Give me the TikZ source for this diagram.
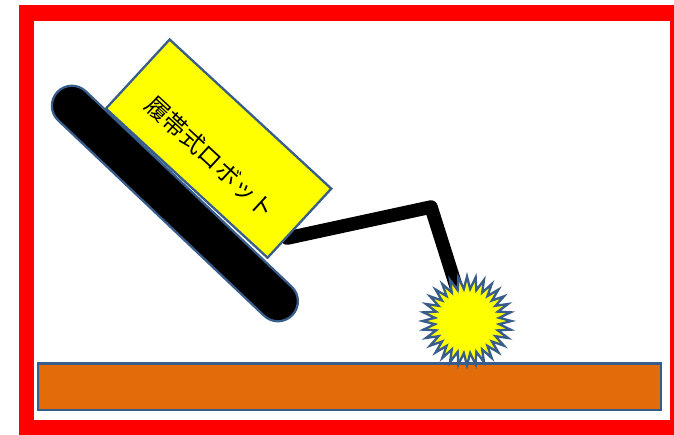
\documentclass[tikz,border=0pt]{standalone}
\usepackage{fontspec}
\newfontfamily\jpfont{Noto Sans CJK JP}
\usetikzlibrary{shapes.geometric,calc,backgrounds}
\definecolor{edge}{RGB}{56,93,138}
\definecolor{soil}{RGB}{227,108,10}
\definecolor{lemon}{RGB}{255,255,0}
\tikzset{every picture/.style = {x=0.02cm, y=-0.02cm}}
\tikzset{outlined/.style = {draw=edge, line width=1.3pt}}
\tikzset{body/.style = {outlined, fill=lemon, minimum width=4.4cm, minimum height=1.88cm, inner sep=0}}
\tikzset{caption/.style = {font=\jpfont\fontsize{13.5}{13.5}\selectfont, inner sep=0}}
\tikzset{track/.style = {outlined, fill=black, minimum width=6.48cm, minimum height=0.8cm, rounded corners=0.399cm}}
\tikzset{arm/.style = {line width=0.27cm, line cap=round, line join=round}}
\tikzset{spark/.style = {outlined, fill=lemon, star, star points=32, star point ratio=1.38, minimum size=1.78cm, inner sep=0}}

\begin{document}
\begin{tikzpicture}
  \useasboundingbox (0, 0) rectangle (674, 434);
  % frame and ground
  \draw[red, line width=0.32cm] (26.5, 12.5) rectangle (678, 428);
  \draw[outlined, fill=soil] (38, 363.5) rectangle (661, 410);
  % robot
  \node(body)[body, rotate=-42.7] at (218.6, 148.6) {};
  \node(title)[caption, rotate=-42.7]
    at ($(body.center)!0.24cm!(body.south)$) {履帯式ロボット};
  \node(crawler)[track, rotate=-43.5] at (174.9, 203.5) {};
  \coordinate(shoulder) at ($(body.south east)!0.3!(body.north east)$);
  \coordinate(elbow) at (431, 207);
  \coordinate(hand) at (467, 321);
  \node(spark)[spark] at (hand) {};
  \begin{scope}[on background layer]
    \draw[arm] (shoulder) -- (elbow) -- (hand);
  \end{scope}
\end{tikzpicture}
\end{document}
